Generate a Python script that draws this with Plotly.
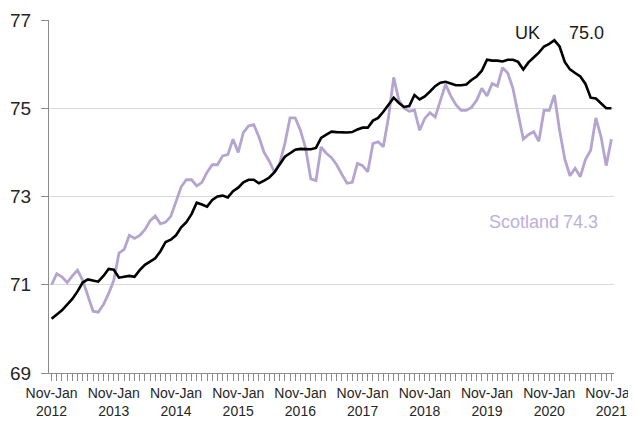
import plotly.graph_objects as go

# Rolling quarters Nov-Jan 2012 ... Nov-Jan 2021 (monthly steps)
years = list(range(2012, 2022))
n_points = 109
uk = [70.23, 70.33, 70.42, 70.55, 70.68, 70.85, 71.05, 71.12, 71.10, 71.07,
      71.20, 71.36, 71.34, 71.16, 71.18, 71.20, 71.18, 71.33, 71.45, 71.53,
      71.60, 71.76, 71.97, 72.02, 72.12, 72.30, 72.42, 72.60, 72.86, 72.82,
      72.77, 72.92, 73.00, 73.02, 72.98, 73.12, 73.20, 73.32, 73.38, 73.38,
      73.30, 73.36, 73.43, 73.55, 73.72, 73.90, 73.98, 74.06, 74.08, 74.08,
      74.07, 74.10, 74.33, 74.40, 74.47, 74.46, 74.45, 74.45, 74.46, 74.52,
      74.56, 74.56, 74.72, 74.78, 74.92, 75.08, 75.24, 75.12, 75.03, 75.05,
      75.30, 75.20, 75.27, 75.38, 75.50, 75.58, 75.60, 75.56, 75.52, 75.52,
      75.54, 75.64, 75.72, 75.85, 76.10, 76.08, 76.08, 76.06, 76.10, 76.10,
      76.05, 75.88, 76.04, 76.15, 76.26, 76.40, 76.46, 76.54, 76.40, 76.05,
      75.88, 75.80, 75.72, 75.55, 75.24, 75.22, 75.12, 75.00, 75.00]
scotland = [71.00, 71.25, 71.18, 71.05, 71.20, 71.33, 71.10, 70.75, 70.40, 70.38,
            70.55, 70.80, 71.10, 71.72, 71.80, 72.12, 72.05, 72.12, 72.25, 72.45,
            72.56, 72.38, 72.42, 72.55, 72.88, 73.22, 73.38, 73.38, 73.24, 73.32,
            73.55, 73.72, 73.72, 73.92, 73.95, 74.30, 74.00, 74.45, 74.60, 74.63,
            74.35, 74.00, 73.80, 73.55, 73.75, 74.20, 74.78, 74.78, 74.50, 74.10,
            73.40, 73.36, 74.12, 73.98, 73.88, 73.72, 73.50, 73.30, 73.32, 73.75,
            73.70, 73.56, 74.20, 74.24, 74.13, 74.80, 75.70, 75.18, 75.00, 74.93,
            74.96, 74.50, 74.77, 74.90, 74.80, 75.15, 75.54, 75.28, 75.08, 74.95,
            74.95, 75.02, 75.18, 75.45, 75.28, 75.56, 75.50, 75.92, 75.80, 75.45,
            74.90, 74.30, 74.40, 74.47, 74.25, 74.95, 74.95, 75.30, 74.50, 73.85,
            73.47, 73.64, 73.45, 73.84, 74.05, 74.78, 74.35, 73.70, 74.30]
tick_labels = ["Nov-Jan<br>%d" % y for y in years]
y_ticks = [69, 71, 73, 75, 77]
uk_label, uk_last = "UK", "75.0"
scot_label, scot_last = "Scotland", "74.3"

x = list(range(n_points))
font = "Liberation Sans, Arial, sans-serif"
purple = "#b3a4d0"

fig = go.Figure()
fig.add_trace(go.Scatter(x=x, y=scotland, mode="lines",
                         line=dict(color=purple, width=2.8), name=scot_label))
fig.add_trace(go.Scatter(x=x, y=uk, mode="lines",
                         line=dict(color="#000000", width=2.6), name=uk_label))

# page body has an 8px margin, so the figure is shrunk to fit the window
fig.update_layout(
    width=628, height=428,
    margin=dict(l=41, r=22, t=12, b=63),
    paper_bgcolor="white", plot_bgcolor="white",
    showlegend=False,
    font=dict(family=font, color="#262626"),
)
fig.update_xaxes(
    range=[-0.5, n_points - 0.5],
    tickmode="array",
    tickvals=[i * 12 for i in range(len(years))],
    ticktext=tick_labels,
    ticks="outside", ticklen=7, tickcolor="#8c8c8c", tickwidth=1,
    minor=dict(dtick=1, tick0=0, ticks="outside", ticklen=7,
               tickcolor="#8c8c8c", tickwidth=1, showgrid=False),
    showline=True, linecolor="#8c8c8c", linewidth=1,
    showgrid=False, zeroline=False,
    tickfont=dict(size=14, color="#262626"),
    ticklabeloverflow="allow",
    automargin=False,
)
fig.update_yaxes(
    range=[69, 77],
    tickvals=y_ticks,
    ticks="outside", ticklen=7, tickcolor="#8c8c8c", tickwidth=1,
    ticklabelstandoff=6,
    showline=True, linecolor="#8c8c8c", linewidth=1,
    showgrid=True, gridcolor="#d9d9d9", gridwidth=1,
    zeroline=False,
    tickfont=dict(size=19, color="#262626"),
    automargin=False,
)

fig.add_annotation(x=89.0, y=76.71, xref="x", yref="y", text=uk_label,
                   showarrow=False, xanchor="left", yanchor="middle",
                   font=dict(size=18, color="#1a1a1a"))
fig.add_annotation(x=99.4, y=76.71, xref="x", yref="y", text=uk_last,
                   showarrow=False, xanchor="left", yanchor="middle",
                   font=dict(size=18, color="#1a1a1a"))
fig.add_annotation(x=84.0, y=72.42, xref="x", yref="y", text=scot_label,
                   showarrow=False, xanchor="left", yanchor="middle",
                   font=dict(size=18, color="#bcb0dc"))
fig.add_annotation(x=98.2, y=72.42, xref="x", yref="y", text=scot_last,
                   showarrow=False, xanchor="left", yanchor="middle",
                   font=dict(size=18, color="#bcb0dc"))

fig.write_html("out.html")
